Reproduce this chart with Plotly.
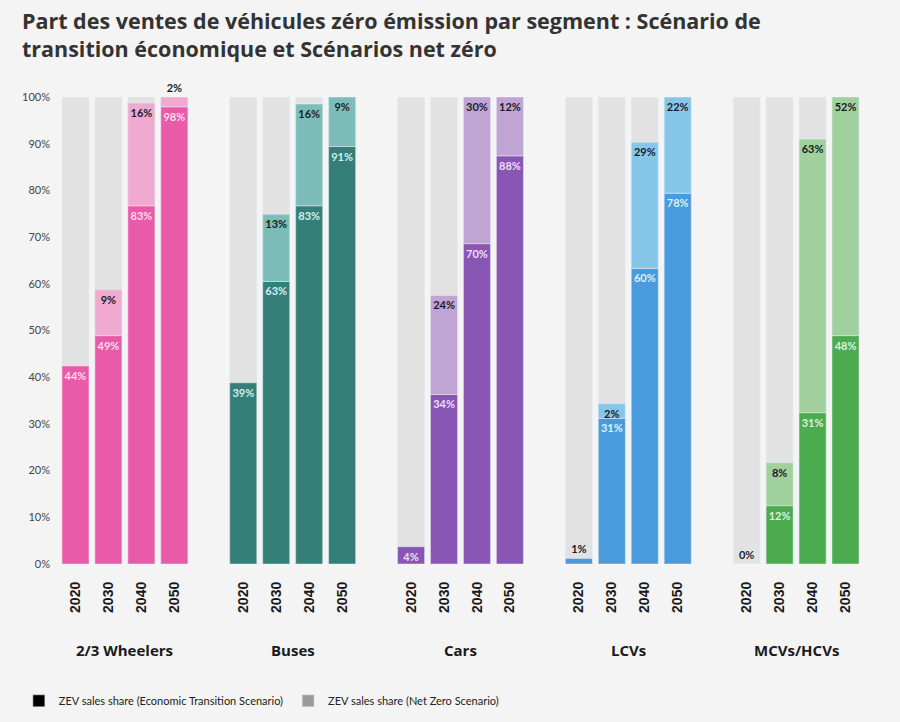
import plotly.graph_objects as go
from plotly.subplots import make_subplots

segments = ['2/3 Wheelers', 'Buses', 'Cars', 'LCVs', 'MCVs/HCVs']
years = ['2020', '2030', '2040', '2050']

# ZEV share, Economic Transition Scenario (bar heights, %)
econ_wheelers = [42.4, 48.9, 76.7, 97.9]
econ_buses = [38.8, 60.5, 76.7, 89.4]
econ_cars = [3.7, 36.3, 68.6, 87.4]
econ_lcvs = [1.2, 31.2, 63.3, 79.4]
econ_mcvs = [0.0, 12.5, 32.4, 48.9]

# ZEV share, Net Zero Scenario (top of the light segment, %)
nz_wheelers = [None, 58.7, 98.7, 100]
nz_buses = [None, 74.9, 98.5, 100]
nz_cars = [None, 57.5, 100, 100]
nz_lcvs = [None, 34.3, 90.3, 100]
nz_mcvs = [None, 21.7, 91.0, 100]

# printed labels
econ_lbl_wheelers = ['44%', '49%', '83%', '98%']
econ_lbl_buses = ['39%', '63%', '83%', '91%']
econ_lbl_cars = ['4%', '34%', '70%', '88%']
econ_lbl_lcvs = ['1%', '31%', '60%', '78%']
econ_lbl_mcvs = ['0%', '12%', '31%', '48%']

nz_lbl_wheelers = ['', '9%', '16%', '2%']
nz_lbl_buses = ['', '13%', '16%', '9%']
nz_lbl_cars = ['', '24%', '30%', '12%']
nz_lbl_lcvs = ['', '2%', '29%', '22%']
nz_lbl_mcvs = ['', '8%', '63%', '52%']

full = [100, 100, 100, 100]

econ = [econ_wheelers, econ_buses, econ_cars, econ_lcvs, econ_mcvs]
nz = [nz_wheelers, nz_buses, nz_cars, nz_lcvs, nz_mcvs]
econ_lbl = [econ_lbl_wheelers, econ_lbl_buses, econ_lbl_cars, econ_lbl_lcvs, econ_lbl_mcvs]
nz_lbl = [nz_lbl_wheelers, nz_lbl_buses, nz_lbl_cars, nz_lbl_lcvs, nz_lbl_mcvs]

dark_col = ['#E95BA8', '#357F79', '#8A56B5', '#4A9BDB', '#4CAA4F']
light_col = ['#F0A9CF', '#7CBDBA', '#BFA4D4', '#86C7E9', '#A0D09D']
lbl_col = ['#FCDDEE', '#D2EFEB', '#EEDFF7', '#DDF0FB', '#DDF2D9']
grey = '#E2E2E2'
ink = '#1C1C28'

fig = make_subplots(rows=1, cols=5, shared_yaxes=True, horizontal_spacing=0.0448)

for i, seg in enumerate(segments):
    c = i + 1
    fig.add_trace(go.Bar(x=years, y=full, marker_color=grey, showlegend=False,
                         hoverinfo='skip'), row=1, col=c)
    # tiny bars get their label above the bar, in dark ink
    pos = ['outside' if v < 2 else 'inside' for v in econ[i]]
    tcol = [ink if v < 2 else lbl_col[i] for v in econ[i]]
    fig.add_trace(go.Bar(x=years, y=econ[i], marker_color=dark_col[i], showlegend=False,
                         text=econ_lbl[i], textposition=pos, insidetextanchor='end',
                         textangle=0,
                         textfont=dict(family='Lato', size=11, color=tcol, weight='bold')),
                  row=1, col=c)
    # net zero part sits on top of the economic transition bar
    extra = [None if n is None else n - e for n, e in zip(nz[i], econ[i])]
    npos = ['outside' if (v is not None and v < 2.5) else 'inside' for v in extra]
    fig.add_trace(go.Bar(x=years, y=extra, base=econ[i], marker_color=light_col[i],
                         showlegend=False, cliponaxis=False,
                         text=nz_lbl[i], textposition=npos, insidetextanchor='end',
                         textangle=0,
                         textfont=dict(family='Lato', size=11, color=ink, weight='bold')),
                  row=1, col=c)
    fig.update_xaxes(type='category', tickangle=-90, ticks='', showline=False,
                     showgrid=False, ticklabelstandoff=14,
                     tickfont=dict(family='Liberation Sans', size=14, color='#1a1a1a',
                                   weight='bold'),
                     row=1, col=c)

# legend entries
fig.add_trace(go.Bar(x=[None], y=[None], marker_color='#000000',
                     name='ZEV sales share (Economic Transition Scenario)'), row=1, col=1)
fig.add_trace(go.Bar(x=[None], y=[None], marker_color='#9A9A9A',
                     name='ZEV sales share (Net Zero Scenario)'), row=1, col=1)

fig.update_yaxes(range=[0, 100], showgrid=False, zeroline=False, showline=False)
fig.update_yaxes(tickmode='linear', tick0=0, dtick=10, ticksuffix='%', ticks='',
                 ticklabelstandoff=8,
                 tickfont=dict(family='Lato', size=11, color='#444444'), row=1, col=1)

# segment names under the year labels
for i, seg in enumerate(segments):
    dom = fig.layout['xaxis' + ('' if i == 0 else str(i + 1))].domain
    fig.add_annotation(text='<b>' + seg + '</b>', x=(dom[0] + dom[1]) / 2, y=-0.184,
                       xref='paper', yref='paper', showarrow=False,
                       xanchor='center', yanchor='middle',
                       font=dict(family='Open Sans', size=15, color='#1a1a1a'))

fig.update_layout(
    width=900, height=722,
    barmode='overlay', bargap=0.18,
    uniformtext=dict(minsize=11, mode='show'),
    paper_bgcolor='#F4F4F4', plot_bgcolor='#F4F4F4',
    margin=dict(l=59, r=38, t=97, b=158, autoexpand=False),
    title=dict(text='<b>Part des ventes de véhicules zéro émission par segment : Scénario de<br>'
                    'transition économique et Scénarios net zéro</b>',
               xref='container', yref='container', x=0.0244, y=0.96,
               xanchor='left', yanchor='middle',
               font=dict(family='Open Sans', size=21.5, color='#333333')),
    showlegend=True,
    legend=dict(orientation='h', x=-0.05, y=-0.293, xanchor='left', yanchor='middle',
                bgcolor='rgba(0,0,0,0)',
                font=dict(family='Lato', size=11, color='#222222')),
    font=dict(family='Lato'),
)

fig.write_html('out.html', config={'displayModeBar': False},
               post_script="document.body.style.margin='0';"
                           "document.body.style.background='#F4F4F4';")
